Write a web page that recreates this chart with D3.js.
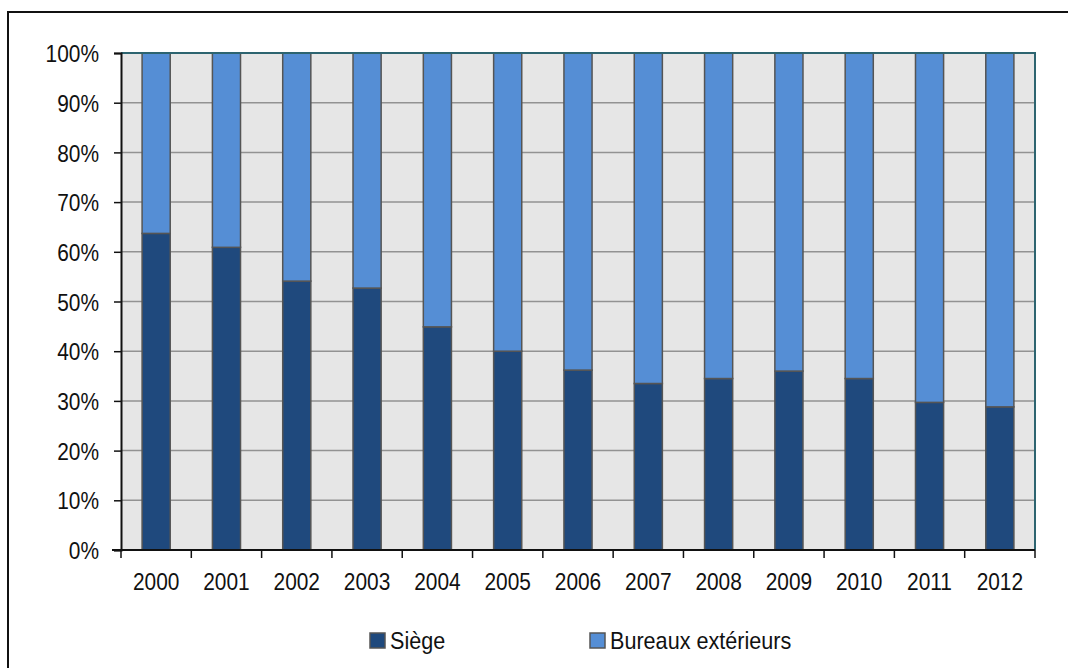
<html>
<head>
<meta charset="utf-8">
<script src="https://d3js.org/d3.v7.min.js"></script>
<style>
  body { margin: 0; background: #fff; }
  text { font-family: "Liberation Sans", Arial, sans-serif; fill: #111; }
</style>
</head>
<body>
<script>
// data (share of total, %)
var years = ["2000","2001","2002","2003","2004","2005","2006","2007","2008","2009","2010","2011","2012"];
var siege = [63.7, 60.9, 54.1, 52.7, 44.9, 40.0, 36.2, 33.5, 34.5, 36.0, 34.5, 29.7, 28.8];
var bureaux = siege.map(function(v) { return 100 - v; });
var seriesNames = ["Siège", "Bureaux extérieurs"];
var seriesColors = ["#1f497d", "#558ed5"];
var yTicks = [0, 10, 20, 30, 40, 50, 60, 70, 80, 90, 100];

var W = 1068, H = 668;
var plot = {left: 121, right: 1035, top: 53, bottom: 550};
var fontSize = 24;
var squeeze = 0.87; // narrow-font look

var svg = d3.select("body").append("svg")
    .attr("width", W)
    .attr("height", H);

// outer frame (runs off the right/bottom of the picture)
svg.append("rect")
    .attr("x", 8).attr("y", 12)
    .attr("width", 1100).attr("height", 700)
    .attr("fill", "none")
    .attr("stroke", "#111")
    .attr("stroke-width", 2);

var x = d3.scaleBand()
    .domain(years)
    .range([plot.left, plot.right])
    .paddingInner(0.6)
    .paddingOuter(0.3);

var y = d3.scaleLinear()
    .domain([0, 100])
    .range([plot.bottom, plot.top]);

// plot background
svg.append("rect")
    .attr("x", plot.left).attr("y", plot.top)
    .attr("width", plot.right - plot.left)
    .attr("height", plot.bottom - plot.top)
    .attr("fill", "#e6e6e6");

// gridlines
svg.append("g")
    .selectAll("line")
    .data(yTicks.filter(function(t) { return t > 0 && t < 100; }))
    .enter().append("line")
    .attr("x1", plot.left).attr("x2", plot.right)
    .attr("y1", function(d) { return y(d); })
    .attr("y2", function(d) { return y(d); })
    .attr("stroke", "#929292")
    .attr("stroke-width", 1.5);

// stacked bars
var rows = years.map(function(yr, i) { return {year: yr, s0: siege[i], s1: bureaux[i]}; });
var stack = d3.stack().keys(["s0", "s1"])(rows);

svg.append("g")
    .selectAll("g")
    .data(stack)
    .enter().append("g")
    .attr("fill", function(d, i) { return seriesColors[i]; })
    .selectAll("rect")
    .data(function(d) { return d; })
    .enter().append("rect")
    .attr("x", function(d) { return x(d.data.year); })
    .attr("y", function(d) { return y(d[1]); })
    .attr("width", x.bandwidth())
    .attr("height", function(d) { return y(d[0]) - y(d[1]); })
    .attr("stroke", "#555")
    .attr("stroke-width", 1.5);

// plot border top/right (teal)
svg.append("path")
    .attr("d", "M" + plot.left + "," + plot.top + "H" + plot.right + "V" + plot.bottom)
    .attr("fill", "none")
    .attr("stroke", "#2d6470")
    .attr("stroke-width", 2);

// y axis
var yAxis = svg.append("g")
    .attr("transform", "translate(" + plot.left + ",0)")
    .call(d3.axisLeft(y).tickValues(yTicks).tickSize(7).tickPadding(0)
        .tickFormat(function(d) { return d + "%"; }));
yAxis.select(".domain").attr("stroke", "#111").attr("stroke-width", 2);
yAxis.selectAll(".tick line").attr("stroke", "#111").attr("stroke-width", 1.5);
yAxis.attr("font-family", null).attr("font-size", null);
yAxis.selectAll("text")
    .attr("x", 0).attr("dy", "0.36em")
    .attr("transform", "translate(-22,0) scale(" + squeeze + ",1)")
    .attr("font-size", fontSize).attr("fill", "#111");

// x axis: ticks at band boundaries
var xAxisG = svg.append("g").attr("transform", "translate(0," + plot.bottom + ")");
xAxisG.append("line")
    .attr("x1", plot.left - 9).attr("x2", plot.right)
    .attr("stroke", "#111").attr("stroke-width", 2);
var step = x.step();
var bounds = d3.range(years.length + 1).map(function(i) { return plot.left + i * step; });
xAxisG.selectAll("line.tk")
    .data(bounds)
    .enter().append("line")
    .attr("class", "tk")
    .attr("x1", function(d) { return d; }).attr("x2", function(d) { return d; })
    .attr("y1", 0).attr("y2", 8)
    .attr("stroke", "#111").attr("stroke-width", 1.5);
xAxisG.selectAll("text")
    .data(years)
    .enter().append("text")
    .attr("transform", function(d) {
        return "translate(" + (x(d) + x.bandwidth() / 2) + ",40) scale(" + squeeze + ",1)";
    })
    .attr("text-anchor", "middle")
    .attr("font-size", fontSize)
    .text(function(d) { return d; });

// legend
var legendX = [370, 590];
var legend = svg.append("g");
seriesNames.forEach(function(name, i) {
    legend.append("rect")
        .attr("x", legendX[i]).attr("y", 633)
        .attr("width", 15).attr("height", 15)
        .attr("fill", seriesColors[i])
        .attr("stroke", "#555")
        .attr("stroke-width", 1.5);
    legend.append("text")
        .attr("transform", "translate(" + (legendX[i] + 20) + ",649) scale(0.9,1)")
        .attr("font-size", fontSize)
        .text(name);
});
</script>
</body>
</html>
